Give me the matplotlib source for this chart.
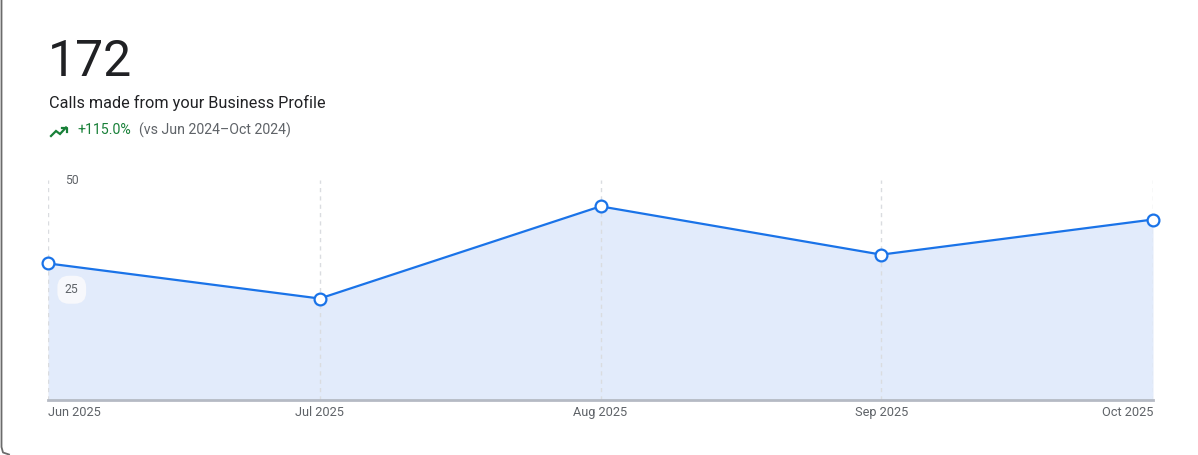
import datetime as dt
import matplotlib.pyplot as plt
from matplotlib.lines import Line2D

plt.rcParams['font.family'] = ['Roboto', 'DejaVu Sans']

# data
months = [dt.date(2025, 6, 1), dt.date(2025, 7, 1), dt.date(2025, 8, 1),
          dt.date(2025, 9, 1), dt.date(2025, 10, 1)]
month_labels = ['Jun 2025', 'Jul 2025', 'Aug 2025', 'Sep 2025', 'Oct 2025']
calls = [31, 23, 44, 33, 41]
total = 172
change = '+115.0%'
compare = '(vs Jun 2024\u2013Oct 2024)'

W, H = 1198, 455
fig = plt.figure(figsize=(W / 100, H / 100), dpi=100)

# kaart rand links (met afgeronde hoek onderaan)
fig.add_artist(Line2D([1.5 / W, 1.5 / W, 3 / W, 9 / W],
                      [1, 8 / H, 2.5 / H, 0.5 / H], color='#6b6b6b', lw=1.3,
                      transform=fig.transFigure))

ax = fig.add_axes([48 / W, (H - 399.5) / H, (1153 - 48) / W, (399.5 - 180) / H])
ax.set_facecolor('none')

blue = '#1a73e8'
ax.fill_between(months, calls, 0, color='#e2ebfb', lw=0)
ax.plot(months, calls, color=blue, lw=1.6, marker='o', ms=8.5,
        mfc='white', mec=blue, mew=1.6, clip_on=False, zorder=5)

ax.set_xlim(months[0], months[-1])
ax.set_ylim(0, 50)

# verticale stippellijnen
for m in months:
    ax.axvline(m, color='#dadce0', lw=1, ls=(0, (3, 3)), zorder=1)

for s in ['top', 'right', 'left']:
    ax.spines[s].set_visible(False)
ax.spines['bottom'].set_color('#b5bac4')
ax.spines['bottom'].set_linewidth(2)
ax.set_yticks([])
ax.set_xticks(months)
ax.set_xticklabels(month_labels, fontsize=9.2, color='#5f6368')
ax.tick_params(axis='x', length=0, pad=5)
tl = ax.get_xticklabels()
tl[0].set_ha('left')
tl[-1].set_ha('right')

# y labels binnen de grafiek
ax.text(0.0155, 50, '50', transform=ax.get_yaxis_transform(), fontsize=8.7,
        color='#5f6368', va='center', ha='left')
ax.text(0.0215, 25, '25', transform=ax.get_yaxis_transform(), fontsize=8.7,
        color='#5f6368', va='center', ha='center',
        bbox=dict(boxstyle='round,pad=0.62,rounding_size=0.95', fc='#f7f8fc', ec='none'))

# koptekst
fig.text(48 / W, 1 - 76 / H, str(total), fontsize=36, color='#202124', va='baseline')
fig.text(49 / W, 1 - 108 / H, 'Calls made from your Business Profile', fontsize=11.7,
         color='#202124', va='baseline')
fig.text(77 / W, 1 - 134.5 / H, change, fontsize=10.2, color='#188038', va='baseline')
fig.text(139 / W, 1 - 134.5 / H, compare, fontsize=10.2, color='#5f6368', va='baseline')

# trending-up icoon
ix = [51, 56, 60, 66]
iy = [136, 131, 134, 127.5]
fig.add_artist(Line2D([x / W for x in ix], [1 - y / H for y in iy], color='#188038',
                      lw=1.6, transform=fig.transFigure, solid_joinstyle='miter'))
fig.add_artist(Line2D([62 / W, 66.5 / W, 66.5 / W], [1 - 127.5 / H, 1 - 127.5 / H, 1 - 132 / H],
                      color='#188038', lw=1.6, transform=fig.transFigure))

plt.savefig('out.png', dpi=100)
